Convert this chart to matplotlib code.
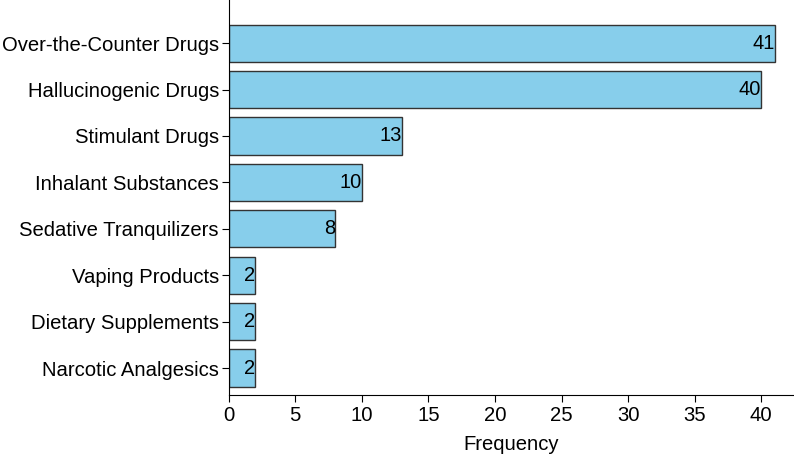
import matplotlib.pyplot as plt
import numpy as np

plt.rcParams["font.family"] = ["Liberation Sans", "DejaVu Sans"]

categories = [
    "Narcotic Analgesics",
    "Dietary Supplements",
    "Vaping Products",
    "Sedative Tranquilizers",
    "Inhalant Substances",
    "Stimulant Drugs",
    "Hallucinogenic Drugs",
    "Over-the-Counter Drugs",
]
counts = [2, 2, 2, 8, 10, 13, 40, 41]


def main():
    fig = plt.figure(figsize=(7.94, 4.58), dpi=100)
    ax = fig.add_axes([0.288, 0.1376, 0.711, 0.8624])

    y = np.arange(len(categories))
    ax.barh(y, counts, height=0.8, color="#87CEEB", edgecolor="#333333", linewidth=1)

    for yi, c in zip(y, counts):
        ax.text(c, yi, str(c), ha="right", va="center", fontsize=14.5, color="black")

    ax.set_yticks(y)
    ax.set_yticklabels(categories, fontsize=14.6)
    ax.set_xticks(np.arange(0, 45, 5))
    ax.tick_params(axis="x", labelsize=14.6, length=5, direction="out", pad=3)
    ax.tick_params(axis="y", length=5, direction="out", pad=2)
    ax.set_xlim(0, 42.4)
    ax.set_ylim(-0.58, 7.93)
    ax.set_xlabel("Frequency", fontsize=14.6, labelpad=7)

    ax.spines["top"].set_visible(False)
    ax.spines["right"].set_visible(False)

    fig.savefig("out.png", dpi=100)


if __name__ == "__main__":
    main()
